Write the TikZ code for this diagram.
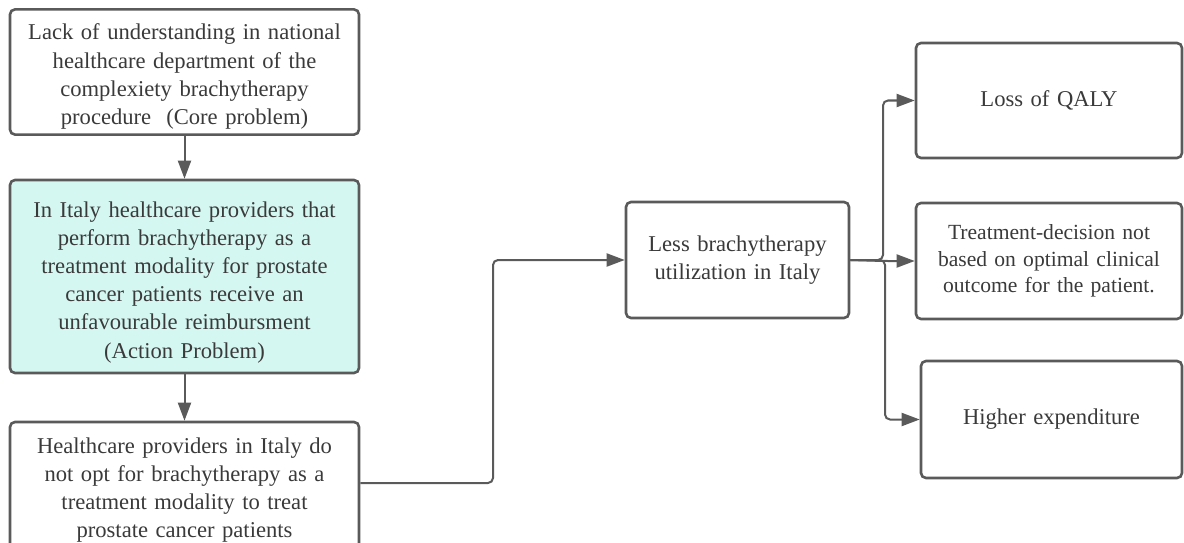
\documentclass[tikz,border=0pt]{standalone}
\usepackage{fontspec}
\setmainfont{Liberation Serif}
\usetikzlibrary{arrows.meta}
\definecolor{edge}{HTML}{5A5A5A}
\definecolor{txt}{HTML}{3A3A3A}
\definecolor{cyanfill}{HTML}{D5F7F2}
\newcommand\upstrut[1]{\rule{0pt}{#1}}
\newcommand\downstrut[1]{\rule[-#1]{0pt}{#1}}
\tikzset{
  box/.style={draw=edge, line width=2.6pt, rounded corners=5pt, fill=white,
    align=center, text=txt, inner sep=0pt,
    font=\fontsize{22.6}{28.2}\selectfont},
  arr/.style={draw=edge, line width=2pt, rounded corners=5pt,
    -{Triangle[length=18pt,width=13pt]}}
}
\begin{document}
\begin{tikzpicture}[x=1pt,y=-1pt]
\useasboundingbox (0,0) rectangle (1184,543);
\node[box, minimum width=349pt, minimum height=122pt, text width=340pt] (A) at (184.5,72)
  {\upstrut{30.6pt}Lack of understanding in national\\healthcare department of the\\complexiety brachytherapy\\procedure\ \ (Core problem)\downstrut{10pt}};
\node[box, fill=cyanfill, minimum width=349pt, minimum height=193pt, text width=340pt] (B) at (184.5,276.5)
  {\upstrut{32pt}In Italy healthcare providers that\\perform brachytherapy as a\\treatment modality for prostate\\cancer patients receive an\\unfavourable reimbursment\\(Action Problem)\downstrut{10pt}};
\node[box, minimum width=349pt, minimum height=136pt, text width=340pt] (C) at (184.5,490)
  {Healthcare providers in Italy do\\not opt for brachytherapy as a\\treatment modality to treat\\prostate cancer patients};
\node[box, minimum width=223pt, minimum height=116pt, text width=215pt] (D) at (737.5,260)
  {Less brachytherapy\\utilization in Italy};
\node[box, minimum width=266pt, minimum height=115pt, text width=258pt] (E) at (1049,100.5)
  {Loss of QALY};
\node[box, font=\fontsize{21.6}{26.8}\selectfont, minimum width=266pt, minimum height=116pt, text width=258pt] (F) at (1049,261)
  {Treatment-decision not\\based on optimal clinical\\outcome for the patient.};
\node[box, minimum width=261pt, minimum height=117pt, text width=253pt] (G) at (1051.5,419.5)
  {Higher expenditure};
\coordinate (cbend) at (493,483);
\coordinate (eb) at (883,260);
\coordinate (gb) at (885,260);
\draw[arr] (A.south) -- (B.north);
\draw[arr] (B.south) -- (C.north);
\draw[arr] (C.east |- cbend) -- (cbend) |- (D.west);
\draw[arr] (D.east) -- (eb) |- (E.west);
\draw[arr] (D.east) -- (eb |- F.west) -- (F.west);
\draw[arr] (D.east) -- (gb) |- (G.west);
\end{tikzpicture}
\end{document}
